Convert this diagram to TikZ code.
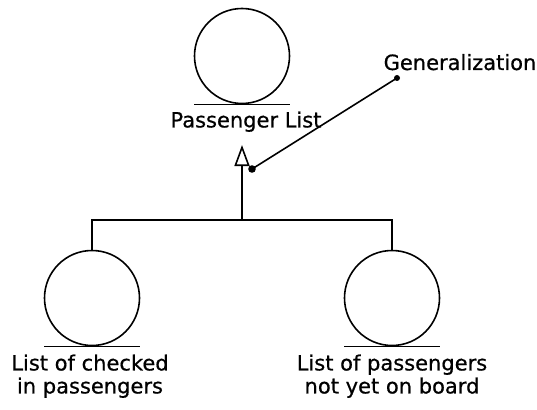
\documentclass[tikz,border=0pt]{standalone}
\usepackage{fontspec}
\setmainfont[FakeBold=0.6]{DejaVu Sans}
\usepackage{tikz}
\usetikzlibrary{positioning, arrows.meta, calc}
\tikzstyle{cls} = [circle, draw=black, line width=1.6pt, minimum size=95pt, inner sep=0pt]
\tikzstyle{lbl} = [align=center, inner sep=0pt, font=\fontsize{21}{23}\selectfont]
\tikzstyle{line} = [line width=1.6pt]
\tikzstyle{arrow} = [line width=1.6pt, -{Triangle[open, length=21pt, width=15pt]}]

\begin{document}
\begin{tikzpicture}[x=1pt, y=-1pt]
    \useasboundingbox (0,0) rectangle (537,409);

    \node (passenger_list) [cls] at (242,56) {};
    
    \node (checked_in) [cls] at (92,298) {};
    
    \node (not_on_board) [cls] at (392,298) {};
    
    \node (passenger_list_lbl) [lbl, below=7pt of passenger_list, xshift=4pt] {Passenger List};
    
    \node (checked_in_lbl) [lbl, below=8pt of checked_in, xshift=-2pt] {List of checked\\in passengers};
    
    \node (not_on_board_lbl) [lbl, below=8pt of not_on_board] {List of passengers\\not yet on board};
    
    \node (generalization_lbl) [lbl, anchor=base] at (460,70) {Generalization};
    
    % base lines under the classes
    \draw[line] ([xshift=-48pt]passenger_list.south) -- ([xshift=48pt]passenger_list.south);
    
    \draw[line] ([xshift=-48pt]checked_in.south) -- ([xshift=48pt]checked_in.south);
    
    \draw[line] ([xshift=-48pt]not_on_board.south) -- ([xshift=48pt]not_on_board.south);
    
    \coordinate (junction) at ($(checked_in.north)!0.5!(not_on_board.north) + (0,-30)$);
    
    \draw[line] (checked_in.north) |- (junction) -| (not_on_board.north);
    
    \draw[arrow, shorten >=13pt] (junction) -- (junction |- passenger_list_lbl.south);
    
    \coordinate (gen_start) at (252,169);
    
    \coordinate (gen_end) at (397,78);
    
    \draw[line] (gen_start) -- (gen_end);
    
    \fill (gen_start) circle (3.8pt);
    
    \fill (gen_end) circle (3pt);

\end{tikzpicture}
\end{document}
